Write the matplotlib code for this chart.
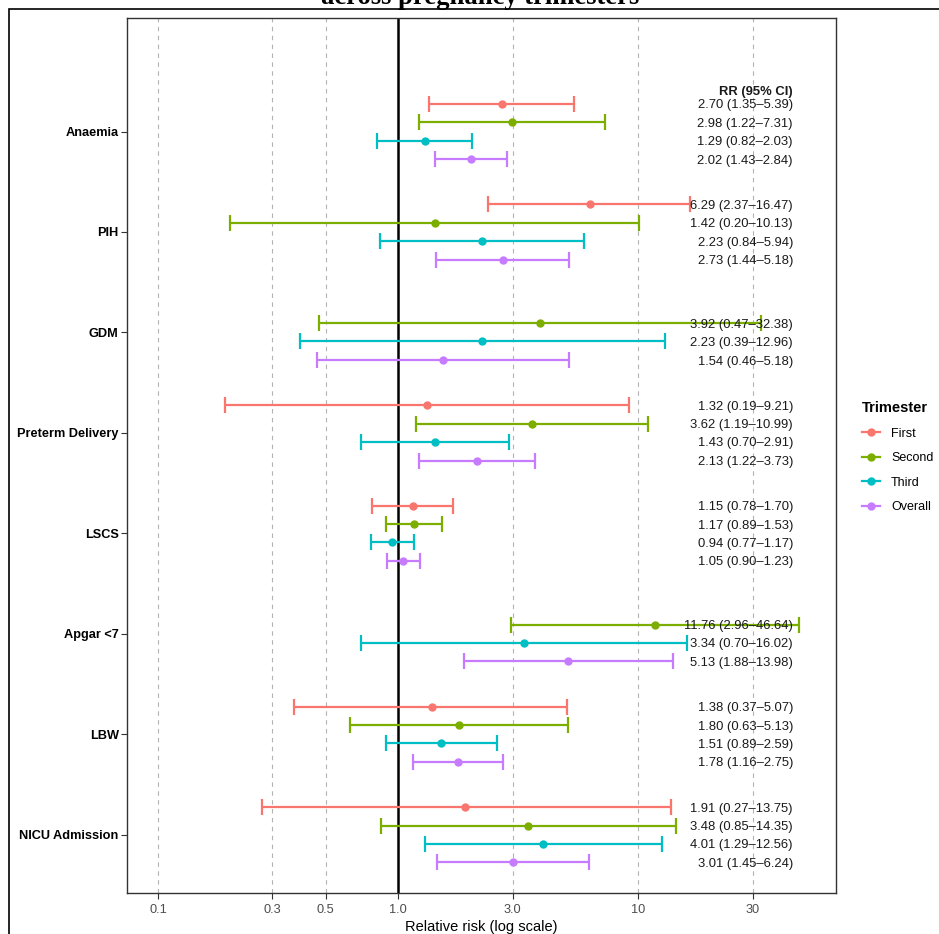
import matplotlib
matplotlib.use("Agg")
import matplotlib.pyplot as plt
from matplotlib.lines import Line2D
from matplotlib.patches import Rectangle
import numpy as np

plt.rcParams['font.family'] = ['Liberation Sans', 'DejaVu Sans']

outcomes = ["Anaemia", "PIH", "GDM", "Preterm Delivery", "LSCS", "Apgar <7", "LBW", "NICU Admission"]
trimesters = ["First", "Second", "Third", "Overall"]
colors = {"First": "#F8766D", "Second": "#7CAE00", "Third": "#00BFC4", "Overall": "#C77CFF"}

# rows: outcome, trimester, RR, lower, upper
row_outcome = ["Anaemia"] * 4 + ["PIH"] * 4 + ["GDM"] * 3 + ["Preterm Delivery"] * 4 + \
              ["LSCS"] * 4 + ["Apgar <7"] * 3 + ["LBW"] * 4 + ["NICU Admission"] * 4
row_trimester = ["First", "Second", "Third", "Overall",
                 "First", "Second", "Third", "Overall",
                 "Second", "Third", "Overall",
                 "First", "Second", "Third", "Overall",
                 "First", "Second", "Third", "Overall",
                 "Second", "Third", "Overall",
                 "First", "Second", "Third", "Overall",
                 "First", "Second", "Third", "Overall"]
rr = [2.70, 2.98, 1.29, 2.02,
      6.29, 1.42, 2.23, 2.73,
      3.92, 2.23, 1.54,
      1.32, 3.62, 1.43, 2.13,
      1.15, 1.17, 0.94, 1.05,
      11.76, 3.34, 5.13,
      1.38, 1.80, 1.51, 1.78,
      1.91, 3.48, 4.01, 3.01]
lower = [1.35, 1.22, 0.82, 1.43,
         2.37, 0.20, 0.84, 1.44,
         0.47, 0.39, 0.46,
         0.19, 1.19, 0.70, 1.22,
         0.78, 0.89, 0.77, 0.90,
         2.96, 0.70, 1.88,
         0.37, 0.63, 0.89, 1.16,
         0.27, 0.85, 1.29, 1.45]
upper = [5.39, 7.31, 2.03, 2.84,
         16.47, 10.13, 5.94, 5.18,
         32.38, 12.96, 5.18,
         9.21, 10.99, 2.91, 3.73,
         1.70, 1.53, 1.17, 1.23,
         46.64, 16.02, 13.98,
         5.07, 5.13, 2.59, 2.75,
         13.75, 14.35, 12.56, 6.24]

x_ticks = [0.1, 0.3, 0.5, 1.0, 3.0, 10, 30]
x_ticklabels = ["0.1", "0.3", "0.5", "1.0", "3.0", "10", "30"]

offsets = {"First": -0.275, "Second": -0.09, "Third": 0.09, "Overall": 0.275}

W, H = 939, 934
fig = plt.figure(figsize=(W / 100, H / 100), dpi=100)
ax = fig.add_axes([127 / W, 1 - 893 / H, (836 - 127) / W, (893 - 18) / H])

ax.set_xscale('log')
ax.set_xlim(0.0743, 66.8)
ax.set_ylim(7.58, -1.13)

for xt in x_ticks:
    if xt != 1.0:
        ax.axvline(xt, color='#B3B3B3', lw=0.8, ls=(0, (4, 4)), zorder=0)
ax.axvline(1.0, color='black', lw=1.8, zorder=1)

label_x = 44.2
for o, t, r, lo, up in zip(row_outcome, row_trimester, rr, lower, upper):
    y = outcomes.index(o) + offsets[t]
    ax.errorbar([r], [y], xerr=[[r - lo], [up - r]], fmt='o', color=colors[t],
                ms=5, elinewidth=1.6, capsize=5.8, capthick=1.6, zorder=3)
    ax.text(label_x, y + 0.015, f"{r:.2f} ({lo:.2f}\u2013{up:.2f})", ha='right', va='center',
            fontsize=9.4, color='#1a1a1a', zorder=4)

ax.text(label_x, -0.39, "RR (95% CI)", ha='right', va='center', fontsize=9.4,
        fontweight='bold', color='#1a1a1a')

ax.set_yticks(range(len(outcomes)))
ax.set_yticklabels(outcomes, fontweight='bold', fontsize=9.2, color='black')
ax.set_xticks(x_ticks)
ax.set_xticklabels(x_ticklabels, fontsize=9.2, color='#4D4D4D')
ax.xaxis.set_minor_locator(matplotlib.ticker.NullLocator())
ax.tick_params(axis='both', length=4, color='#333333', width=0.8)
ax.tick_params(axis='y', pad=2)
ax.tick_params(axis='x', pad=4)
ax.set_xlabel("Relative risk (log scale)", fontsize=10.5, color='black', labelpad=3)

for s in ax.spines.values():
    s.set_color('#333333')
    s.set_linewidth(1.0)

handles = [Line2D([0], [0], color=colors[t], lw=1.6, marker='o', ms=5) for t in trimesters]
leg = fig.legend(handles, trimesters, loc='upper left', bbox_to_anchor=(851 / W, 1 - 390 / H),
                 frameon=False, title="Trimester", fontsize=9, handlelength=1.45,
                 handletextpad=0.85, labelspacing=1.0, alignment='left',
                 title_fontproperties={'weight': 'bold', 'size': 10.5})

fig.patches.append(Rectangle((9 / W, -0.1), 1.2, 1.1 - 9 / H, transform=fig.transFigure,
                             fill=False, edgecolor='black', lw=1.2))

fig.text(480 / W, 1 - 4 / H, "across pregnancy trimesters", ha='center', va='baseline',
         fontsize=19.2, fontweight='bold', family=['Liberation Serif', 'DejaVu Serif'])

fig.savefig("out.png", dpi=100)
